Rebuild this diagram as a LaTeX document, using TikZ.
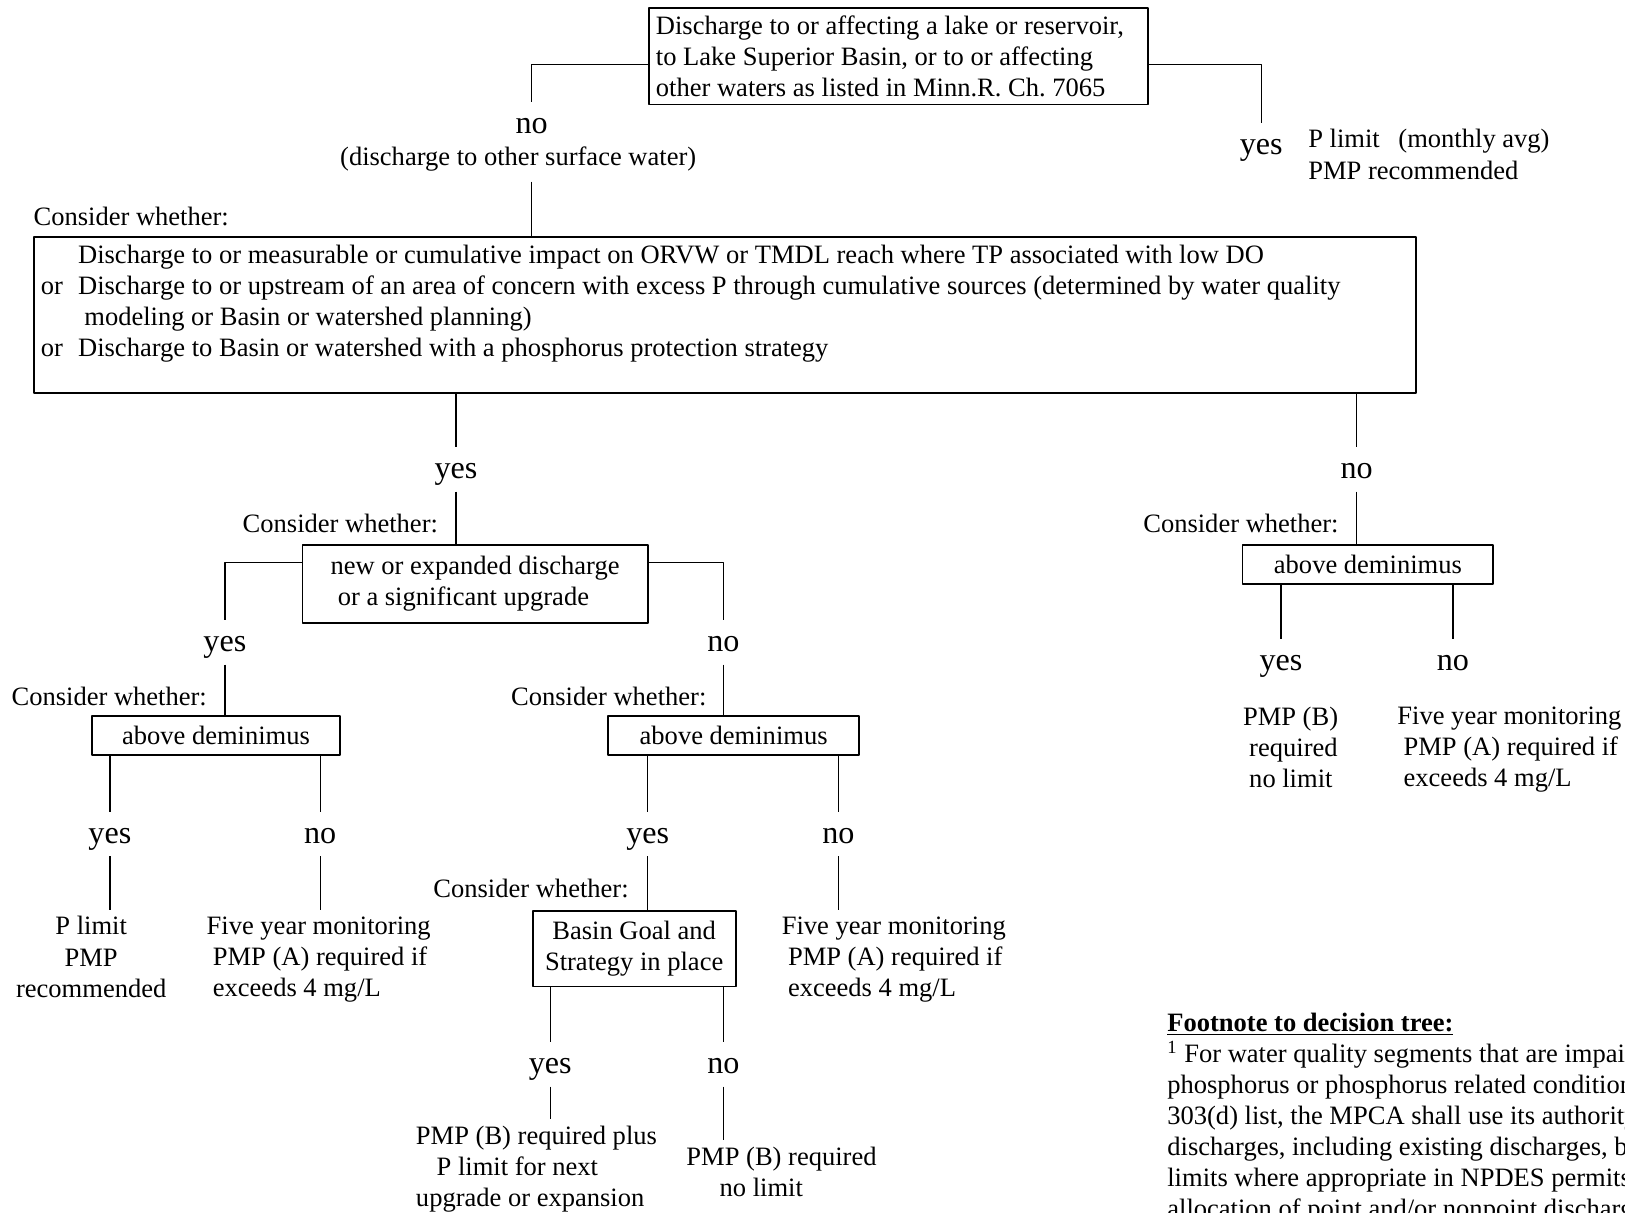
\documentclass[tikz,border=0pt]{standalone}
\usepackage{fontspec}
\setmainfont{Liberation Serif}
\frenchspacing
\begin{document}
\begin{tikzpicture}[x=0.5pt, y=-0.5pt, font=\fontsize{12.8}{15}\selectfont, line join=round,
		box/.style={draw, line width=0.9pt, inner xsep=3.5pt, inner ysep=0pt, align=flush left},
		ans/.style={inner sep=0pt, minimum height=21pt, text height=12pt, text depth=3pt, font=\fontsize{15.5}{18}\selectfont},
		note/.style={inner xsep=0pt, inner ysep=3pt, align=left},
		ask/.style={inner sep=0pt, anchor=east},
		link/.style={line width=0.7pt}]
	\useasboundingbox (0,0) rectangle (1568,1170);
	\clip (0,0) rectangle (1568,1170);
	\node[box, anchor=north west, text width=234pt, minimum height=46.5pt] (q1) at (625,7) {Discharge to or affecting a lake or reservoir,\\to Lake Superior Basin, or to or affecting\\other waters as listed in Minn.R. Ch. 7065};
	\node[ans] (n1) at (513,120) {no};
	\node[inner xsep=0pt, inner ysep=5pt] (n1b) at (500,153) {(discharge to other surface water)};
	\node[ans] (y1) at (1217,140) {yes};
	\node[note, anchor=west] (r1) at (1262,149) {P limit\hspace{9pt}(monthly avg)\\PMP recommended};
	\draw[link] ([yshift=-27.5pt]q1.north west) -| (n1.north);
	\draw[link] ([yshift=-27.5pt]q1.north east) -| (y1.north);
	\node[inner sep=0pt, anchor=west] (c2) at (32,209) {Consider whether:};
	\node[box, anchor=north west, minimum width=666.5pt, minimum height=75pt] (q2) at (32,228) {};
	\node[inner sep=0pt, anchor=north west] (q2t) at (39,233) {\begin{tabular}{@{}p{18pt}@{}l@{}}
		& Discharge to or measurable or cumulative impact on ORVW or TMDL reach where TP associated with low DO\\
		or & Discharge to or upstream of an area of concern with excess P through cumulative sources (determined by water quality\\
		& \hspace{3pt}modeling or Basin or watershed planning)\\
		or & Discharge to Basin or watershed with a phosphorus protection strategy
	\end{tabular}};
	\draw[link] (n1b.south -| n1) -- (n1 |- q2.north);
	\node[ans] (y2) at (440,453) {yes};
	\node[ans] (n2) at (1309,453) {no};
	\draw[link] (q2.south -| y2) -- (y2.north);
	\draw[link] (q2.south -| n2) -- (n2.north);
	\node[ask] (c3) at (423,505) {Consider whether:};
	\node[box, anchor=north west, minimum width=166.5pt, minimum height=37.5pt] (q3) at (291,525) {new or expanded discharge\\\hspace*{3.5pt}or a significant upgrade};
	\draw[link] (y2.south) -- (y2 |- q3.north);
	\node[ans] (y3) at (217,620) {yes};
	\node[ans] (n3) at (698,620) {no};
	\draw[link] ([yshift=-9pt]q3.north west) -| (y3.north);
	\draw[link] ([yshift=-9pt]q3.north east) -| (n3.north);
	\node[ask] (c4) at (200,672) {Consider whether:};
	\node[ask] (c5) at (682,672) {Consider whether:};
	\node[box, anchor=north west, minimum width=119.5pt, minimum height=19pt, align=center] (q4) at (88,690) {above deminimus};
	\node[box, anchor=north west, minimum width=121pt, minimum height=19pt, align=center] (q5) at (586,690) {above deminimus};
	\draw[link] (y3.south) -- (y3 |- q4.north);
	\draw[link] (n3.south) -- (n3 |- q5.north);
	\node[ans] (y4) at (106,805) {yes};
	\node[ans] (n4) at (309,805) {no};
	\draw[link] (q4.south -| y4) -- (y4.north);
	\draw[link] (q4.south -| n4) -- (n4.north);
	\node[note, align=center, anchor=north] (r4) at (88,878) {P limit\\PMP\\recommended};
	\node[note, anchor=north west] (r5) at (199,878) {Five year monitoring\\\hspace*{3pt}PMP (A) required if\\\hspace*{3pt}exceeds 4 mg/L};
	\draw[link] (y4.south) -- (y4 |- r4.north);
	\draw[link] (n4.south) -- (n4 |- r5.north);
	\node[ans] (y6) at (625,805) {yes};
	\node[ans] (n6) at (809,805) {no};
	\draw[link] (q5.south -| y6) -- (y6.north);
	\draw[link] (q5.south -| n6) -- (n6.north);
	\node[ask] (c6) at (607,857) {Consider whether:};
	\node[box, anchor=north west, minimum width=98pt, minimum height=36.5pt, align=center] (q6) at (513,878) {Basin Goal and\\Strategy in place};
	\draw[link] (y6.south) -- (y6 |- q6.north);
	\node[note, anchor=north west] (r6) at (754,878) {Five year monitoring\\\hspace*{3pt}PMP (A) required if\\\hspace*{3pt}exceeds 4 mg/L};
	\draw[link] (n6.south) -- (n6 |- r6.north);
	\node[ans] (y7) at (531,1027) {yes};
	\node[ans] (n7) at (698,1027) {no};
	\draw[link] (q6.south -| y7) -- (y7.north);
	\draw[link] (q6.south -| n7) -- (n7.north);
	\node[note, anchor=north west] (r7) at (401,1080) {PMP (B) required plus\\\hspace*{10pt}P limit for next\\upgrade or expansion};
	\node[note, anchor=north west] (r8) at (662,1100) {PMP (B) required\\\hspace*{16pt}no limit};
	\draw[link] (y7.south) -- (y7 |- r7.north);
	\draw[link] (n7.south) -- (n7 |- r8.north);
	\node[ask] (c9) at (1292,505) {Consider whether:};
	\node[box, anchor=north west, minimum width=121pt, minimum height=19pt, align=center] (q9) at (1198,525) {above deminimus};
	\draw[link] (n2.south) -- (n2 |- q9.north);
	\node[ans] (y9) at (1236,638) {yes};
	\node[ans] (n9) at (1402,638) {no};
	\draw[link] (q9.south -| y9) -- (y9.north);
	\draw[link] (q9.south -| n9) -- (n9.north);
	\node[note, anchor=north west] (r9) at (1199,676) {PMP (B)\\\hspace*{3pt}required\\\hspace*{3pt}no limit};
	\node[note, anchor=north west] (r10) at (1348,676) {Five year monitoring\\\hspace*{3pt}PMP (A) required if\\\hspace*{3pt}exceeds 4 mg/L};
	\node[inner sep=0pt, anchor=north west, align=left] (fn) at (1126,977) {\underline{\textbf{Footnote to decision tree:}}\\\textsuperscript{1} For water quality segments that are impaired\\phosphorus or phosphorus related conditions\\303(d) list, the MPCA shall use its authority\\discharges, including existing discharges, by\\limits where appropriate in NPDES permits\\allocation of point and/or nonpoint discharges};
\end{tikzpicture}
\end{document}
